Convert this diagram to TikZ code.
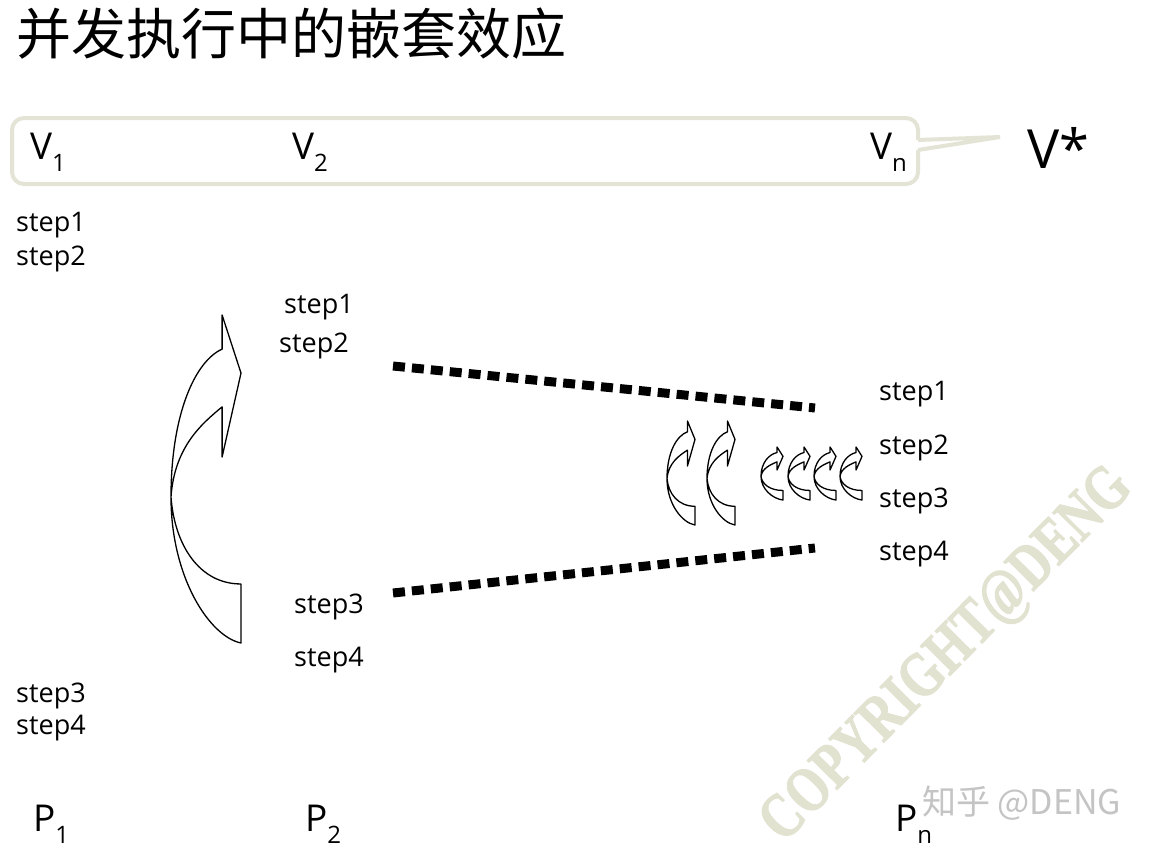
\documentclass[tikz,border=0pt]{standalone}
\usepackage{fontspec}
\setmainfont{Open Sans}
\newfontfamily\cjkfont{Noto Sans CJK SC}
\newfontfamily\wmfont[UprightFont={* Bold},FakeBold=1.6]{Liberation Serif}
\definecolor{boxline}{HTML}{E4E4D6}
\definecolor{wmcol}{HTML}{E2E2D0}
\definecolor{zhcol}{HTML}{C4C4C4}
\newcommand\fs[1]{\fontsize{#1}{#1}\selectfont}
\newcommand\sub[1]{\raisebox{-0.32em}{\fs{24}#1}}
% curved arrow: left x, bottom y, width, height (pixels)
\newcommand\carrow[4]{%
  \begin{scope}[shift={(#1,#2)},xscale=#3,yscale=-#4]
    \draw[arrowshape] (1,0) .. controls (0.55,0.02) and (0,0.2) .. (0,0.445)
      .. controls (0,0.7) and (0.35,0.86) .. (0.73,0.896)
      -- (0.73,1) -- (1,0.823) -- (0.73,0.567) -- (0.73,0.72)
      .. controls (0.45,0.67) and (0.05,0.6) .. (0,0.445)
      .. controls (0.05,0.3) and (0.4,0.18) .. (1,0.18) -- cycle;
  \end{scope}}
\begin{document}
\begin{tikzpicture}[x=1pt,y=-1pt,
  lbl/.style={anchor=west,inner sep=0pt,font=\fs{27}},
  big/.style={anchor=west,inner sep=0pt,font=\fs{37}},
  arrowshape/.style={draw=black,fill=white,line width=1.3pt,line join=round},
  dotline/.style={line width=9pt,dash pattern=on 12pt off 7pt}]
\useasboundingbox[fill=white] (0,0) rectangle (1155,851);
% watermark
\node[rotate=45.3,text=wmcol,font=\wmfont\fs{64},inner sep=0pt] (wm) at (948,656) {\scalebox{0.78}[1]{COPYRIGHT@DENG}};
% title
\node[anchor=west,inner sep=0pt,font=\cjkfont\fs{55}] (title) at (16,34) {并发执行中的嵌套效应};
% V box
\draw[boxline,line width=4pt,rounded corners=12pt] (918,140) -- (918,118) -- (12,118) -- (12,184) -- (918,184) -- (918,150);
\coordinate (tip) at (1000,137);
\draw[boxline,line width=4pt,line join=miter] (918,140) -- (tip) -- (918,150);
\node[big] (v1) at (30,152) {V\sub{1}};
\node[big] (v2) at (292,152) {V\sub{2}};
\node[big] (vn) at (870,152) {V\sub{n}};
\node[anchor=west,inner sep=0pt,font=\fs{54}] (vs) at (1027,148) {V*};
% P1 steps
\node[lbl] (a1) at (16,225) {step1};
\node[lbl] (a2) at (16,259) {step2};
\node[lbl] (a3) at (16,696) {step3};
\node[lbl] (a4) at (16,728) {step4};
% P2 steps
\node[lbl] (b1) at (284,307) {step1};
\node[lbl] (b2) at (279,346) {step2};
\node[lbl] (b3) at (294,607) {step3};
\node[lbl] (b4) at (294,660) {step4};
% Pn steps
\node[lbl] (c1) at (879,394) {step1};
\node[lbl] (c2) at (879,448) {step2};
\node[lbl] (c3) at (879,501) {step3};
\node[lbl] (c4) at (879,554) {step4};
% P labels
\node[big] (p1) at (33,824) {P\sub{1}};
\node[big] (p2) at (305,824) {P\sub{2}};
\node[big] (pn) at (895,824) {P\sub{n}};
% zhihu mark
\node[anchor=west,inner sep=0pt,text=zhcol,font=\cjkfont\fs{34}] (zh) at (922,803) {知乎 @DENG};
% dotted connectors
\coordinate (u1) at (393,366); \coordinate (u2) at (815,408);
\coordinate (l1) at (393,593); \coordinate (l2) at (815,548);
\draw[dotline] (u1) -- (u2);
\draw[dotline] (l1) -- (l2);
% curved arrows
\carrow{171}{643}{70}{328}
\carrow{667}{525}{28}{104}
\carrow{707}{525}{28}{104}
\carrow{761}{500}{22}{53}
\carrow{788}{500}{22}{53}
\carrow{814}{500}{22}{53}
\carrow{840}{500}{22}{53}
\end{tikzpicture}
\end{document}
